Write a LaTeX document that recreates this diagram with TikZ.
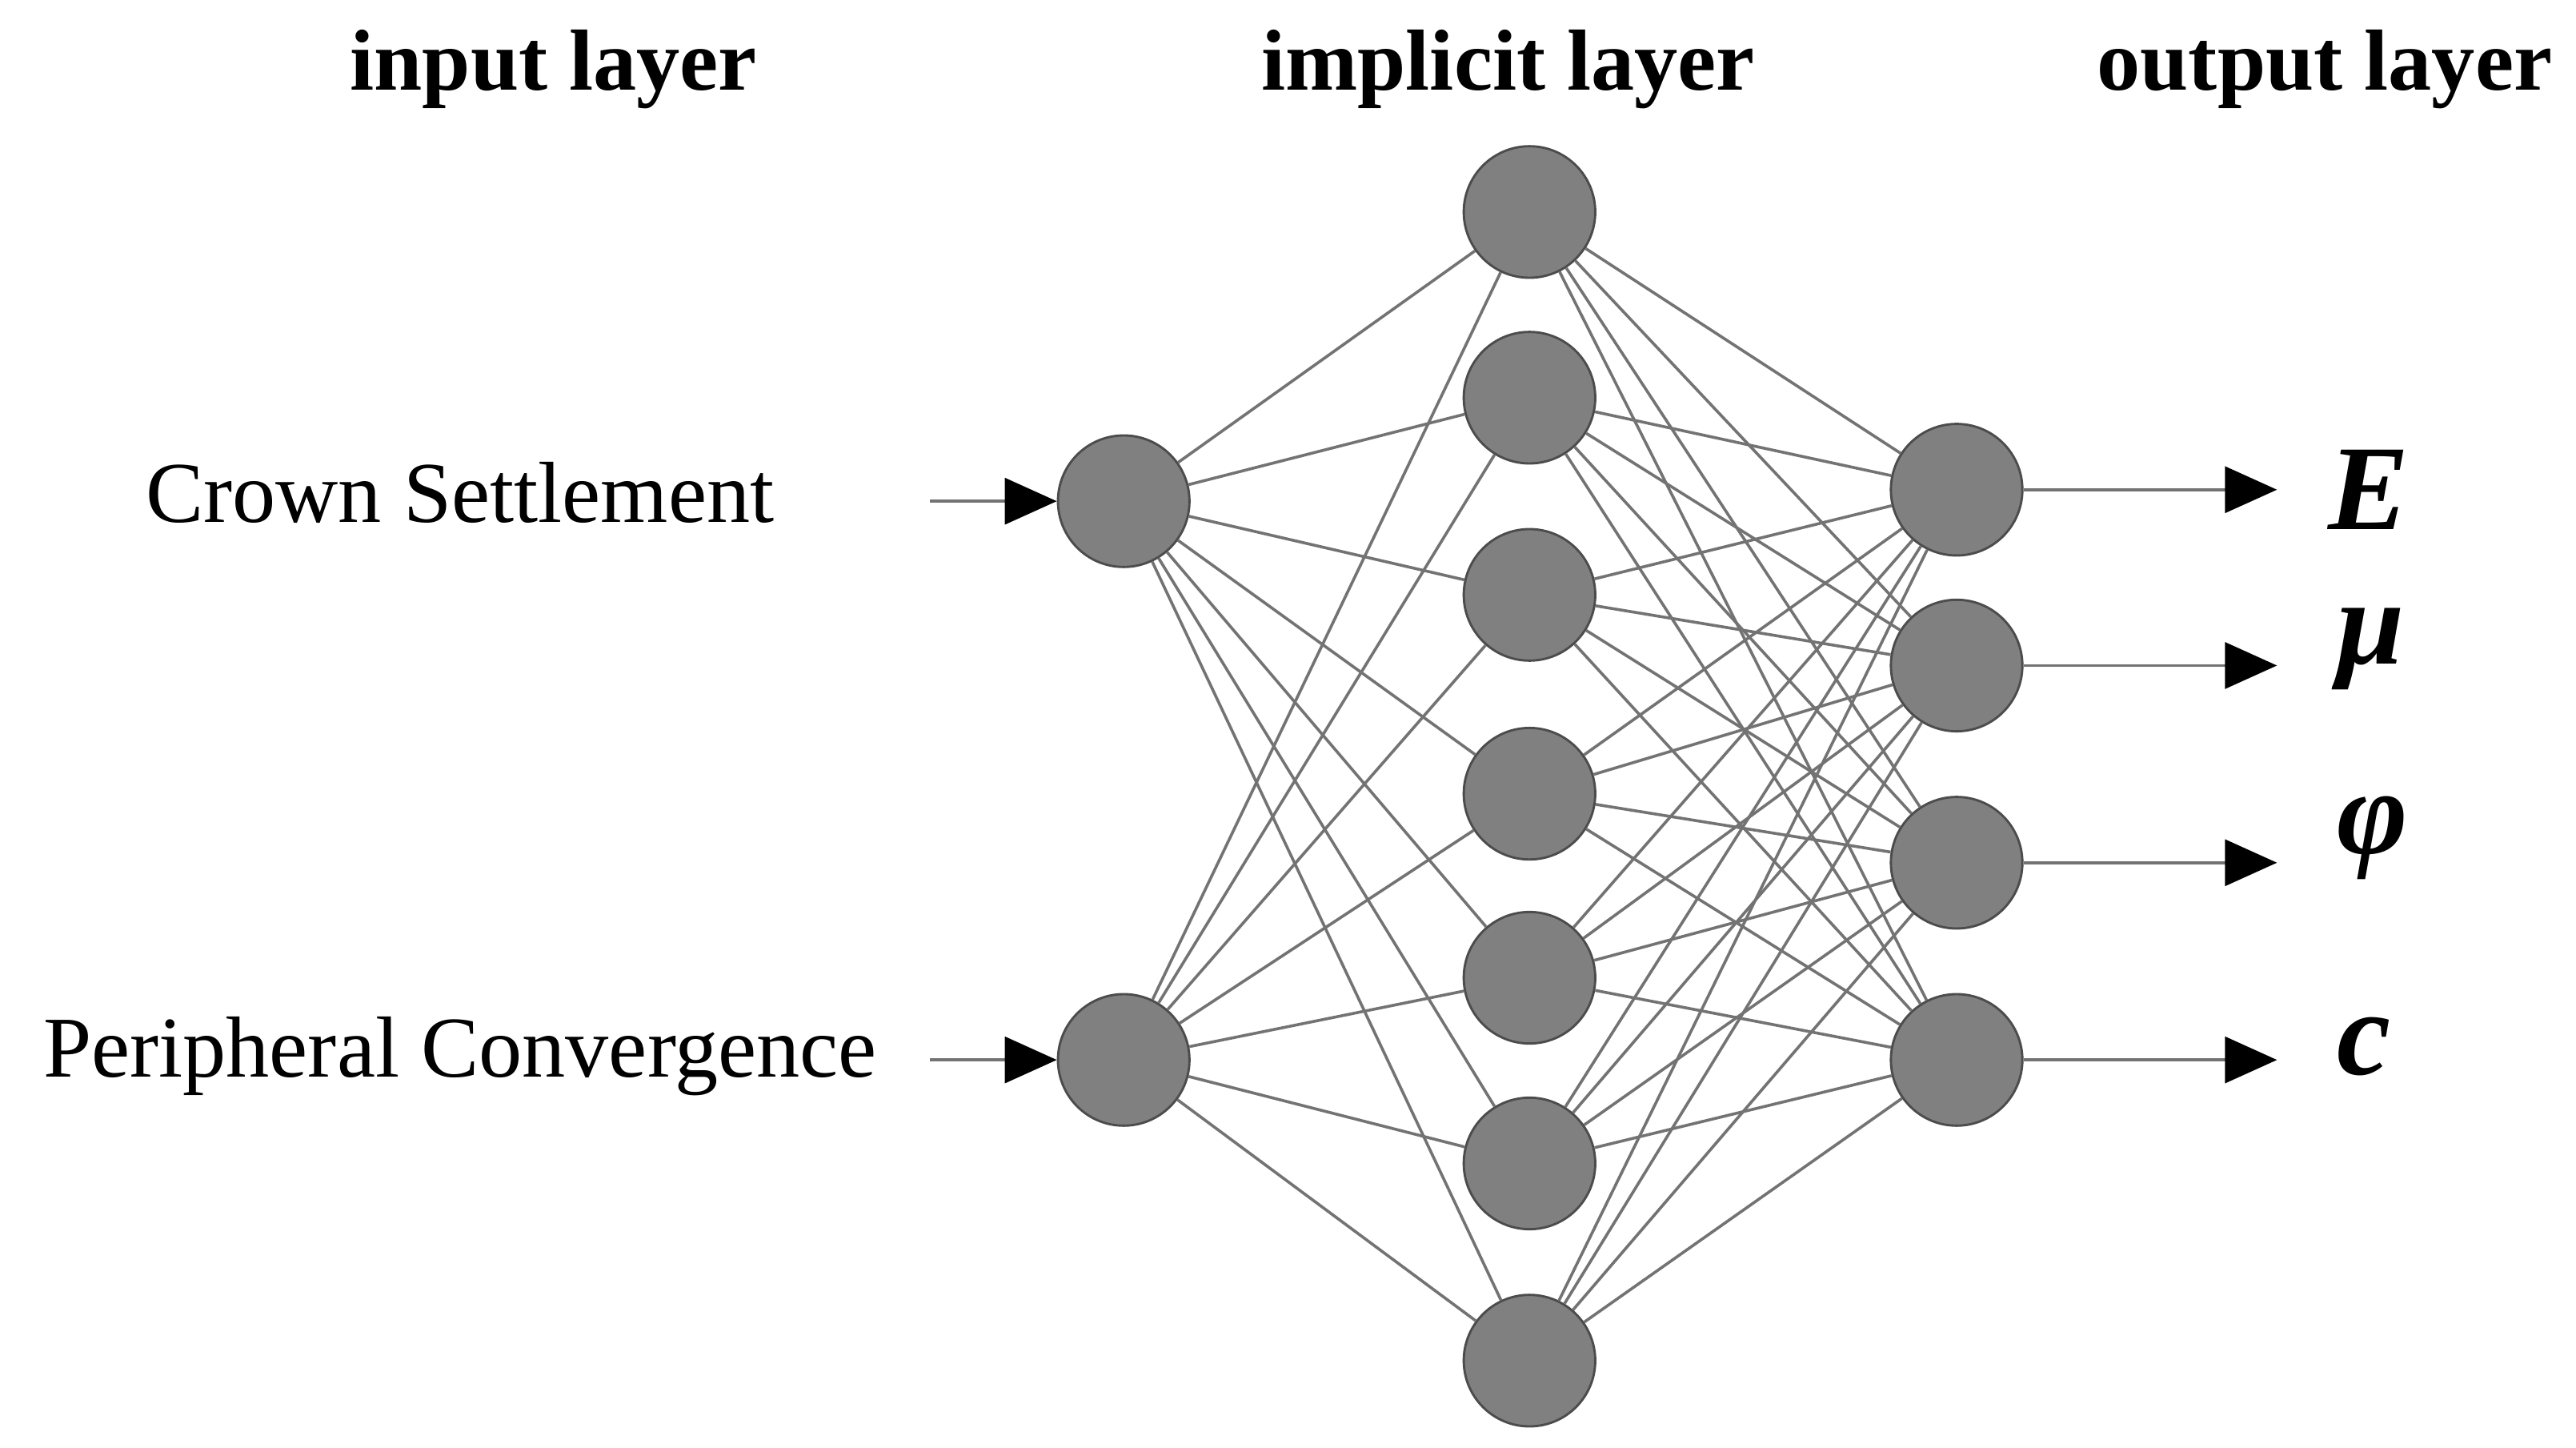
\documentclass[tikz,border=0pt]{standalone}
\usepackage{fontspec}
\setmainfont{Liberation Serif}
\usetikzlibrary{arrows.meta}
\begin{document}
\begin{tikzpicture}[x=0.01cm,y=-0.01cm,
neuron/.style={circle,draw=black!70,fill=black!50,minimum size=0.8cm,inner sep=0pt},
link/.style={black!55,line width=0.5pt},
arr/.style={black!55,line width=0.5pt,-{Triangle[length=9pt,width=8pt,fill=black,color=black]}},
title/.style={font=\fontsize{15}{18}\selectfont\bfseries},
lab/.style={font=\fontsize{15}{18}\selectfont},
sym/.style={font=\fontsize{21}{24}\selectfont\bfseries\itshape}]
\useasboundingbox (0,0) rectangle (1568,881);
\node[title] (t1) at (337,42) {input layer};
\node[title] (t2) at (918,42) {implicit layer};
\node[title] (t3) at (1415,42) {output layer};
\node[neuron] (i1) at (684,305) {};
\node[neuron] (i2) at (684,645) {};
\foreach \k/\y in {1/129,2/242,3/362,4/483,5/595,6/708,7/828}
  \node[neuron] (h\k) at (931,\y) {};
\foreach \k/\y in {1/298,2/405,3/525,4/645}
  \node[neuron] (o\k) at (1191,\y) {};
\node[lab] (l1) at (280,300) {Crown Settlement};
\node[lab] (l2) at (280,643) {Peripheral Convergence};
\coordinate (a1) at (566,305);
\coordinate (a2) at (566,645);
\draw[arr] (a1) -- (i1);
\draw[arr] (a2) -- (i2);
\foreach \i in {1,2} \foreach \h in {1,...,7} \draw[link] (i\i) -- (h\h);
\foreach \h in {1,...,7} \foreach \o in {1,...,4} \draw[link] (h\h) -- (o\o);
\node[sym,anchor=west] (s1) at (1405,298) {E};
\node[sym,anchor=west] (s2) at (1410,395) {μ};
\node[sym,anchor=west] (s3) at (1410,510) {φ};
\node[sym,anchor=west] (s4) at (1410,637) {c};
\foreach \k/\y in {1/298,2/405,3/525,4/645}
  \coordinate (e\k) at (1386,\y);
\foreach \k in {1,...,4} \draw[arr] (o\k) -- (e\k);
\end{tikzpicture}
\end{document}
